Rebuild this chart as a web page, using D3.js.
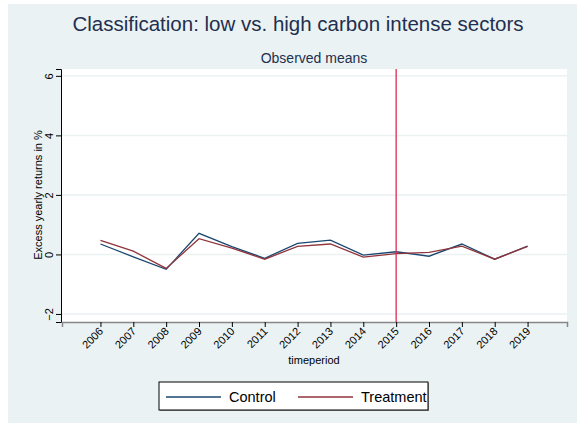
<!DOCTYPE html>
<meta charset="utf-8">
<style>
  body {margin: 0; background: #fff; font-family: Helvetica, 'Liberation Sans', Arial, sans-serif;}
</style>
<svg width="577" height="423"></svg>
<script src="https://d3js.org/d3.v7.min.js"></script>
<script>

var years = [2006, 2007, 2008, 2009, 2010, 2011, 2012, 2013, 2014, 2015, 2016, 2017, 2018, 2019];
var control = [0.35, -0.08, -0.50, 0.71, 0.26, -0.13, 0.37, 0.48, -0.02, 0.09, -0.06, 0.35, -0.16, 0.28];
var treatment = [0.47, 0.11, -0.47, 0.53, 0.21, -0.16, 0.27, 0.35, -0.09, 0.03, 0.07, 0.28, -0.16, 0.27];
var yTicks = [-2, 0, 2, 4, 6];
var treatYear = 2015;

var svg = d3.select("svg");

// graph region background
svg.append("rect")
    .attr("x", 8).attr("y", 4)
    .attr("width", 569).attr("height", 419)
    .style("fill", "#eaf2f3");

var x = d3.scaleLinear().domain([2004.83, 2020.2]).range([62, 567]);
var y = d3.scaleLinear().domain([-2.27, 6.23]).range([322, 69]);

svg.append("rect")
    .attr("x", 62).attr("y", 69)
    .attr("width", 505).attr("height", 253)
    .style("fill", "#fff");

// gridlines
svg.append("g")
    .selectAll("line")
    .data(yTicks)
    .enter().append("line")
    .attr("x1", 62).attr("x2", 567)
    .attr("y1", function(d) { return y(d); })
    .attr("y2", function(d) { return y(d); })
    .style("stroke", "#eaf2f3")
    .style("stroke-width", 1.5);

// y axis
var yAxis = svg.append("g")
    .attr("transform", "translate(61,0)")
    .call(d3.axisLeft(y).tickValues(yTicks).tickSize(5).tickPadding(4));
yAxis.select(".domain").style("stroke", "#000");
yAxis.selectAll(".tick line").style("stroke", "#000");
yAxis.selectAll("text")
    .style("font-size", "11px")
    .style("fill", "#000")
    .attr("text-anchor", "middle")
    .attr("x", 0).attr("dy", 0)
    .attr("transform", "translate(-8,0) rotate(-90)");

// x axis
var xAxis = svg.append("g")
    .attr("transform", "translate(0,322)")
    .call(d3.axisBottom(x).tickValues(years).tickFormat(d3.format("d")).tickSize(5));
xAxis.select(".domain").style("stroke", "#888").style("stroke-width", 1.5);
xAxis.selectAll(".tick line").style("stroke", "#000");
xAxis.selectAll("text")
    .style("font-size", "11px")
    .style("fill", "#000")
    .attr("text-anchor", "end")
    .attr("y", 0).attr("dy", 0)
    .attr("transform", "translate(3,10) rotate(-45)");

svg.append("text")
    .attr("x", 314).attr("y", 364)
    .attr("text-anchor", "middle")
    .style("font-size", "11px")
    .text("timeperiod");

svg.append("text")
    .attr("transform", "translate(42,195) rotate(-90)")
    .attr("text-anchor", "middle")
    .style("font-size", "11px")
    .text("Excess yearly returns in %");

// series
var line = d3.line()
    .x(function(d) { return x(d[0]); })
    .y(function(d) { return y(d[1]); });

svg.append("path")
    .datum(d3.zip(years, control))
    .attr("d", line)
    .style("fill", "none")
    .style("stroke", "#1a476f")
    .style("stroke-width", 1.3);

svg.append("path")
    .datum(d3.zip(years, treatment))
    .attr("d", line)
    .style("fill", "none")
    .style("stroke", "#90353b")
    .style("stroke-width", 1.3);

// treatment year marker
svg.append("line")
    .attr("x1", x(treatYear)).attr("x2", x(treatYear))
    .attr("y1", 69).attr("y2", 322)
    .style("stroke", "#dc2a52")
    .style("stroke-width", 1.3);

// titles
svg.append("text")
    .attr("x", 298).attr("y", 31)
    .attr("text-anchor", "middle")
    .style("font-size", "20.5px")
    .style("fill", "#1e2f4f")
    .text("Classification: low vs. high carbon intense sectors");

svg.append("text")
    .attr("x", 314).attr("y", 63)
    .attr("text-anchor", "middle")
    .style("font-size", "14px")
    .style("fill", "#1e2f4f")
    .text("Observed means");

// legend
var legend = svg.append("g");
legend.append("rect")
    .attr("x", 160).attr("y", 383)
    .attr("width", 269).attr("height", 28)
    .style("fill", "#999");
legend.append("rect")
    .attr("x", 159).attr("y", 382)
    .attr("width", 269).attr("height", 28)
    .style("fill", "#fff")
    .style("stroke", "#000")
    .style("stroke-width", 1);

var items = [
  {name: "Control", color: "#1a476f", x0: 166},
  {name: "Treatment", color: "#90353b", x0: 298}
];
legend.selectAll("line.key")
    .data(items)
    .enter().append("line")
    .attr("x1", function(d) { return d.x0; })
    .attr("x2", function(d) { return d.x0 + 55; })
    .attr("y1", 397).attr("y2", 397)
    .style("stroke", function(d) { return d.color; })
    .style("stroke-width", 1.3);
legend.selectAll("text")
    .data(items)
    .enter().append("text")
    .attr("x", function(d) { return d.x0 + 63; })
    .attr("y", 402)
    .style("font-size", "14.5px")
    .text(function(d) { return d.name; });

</script>
